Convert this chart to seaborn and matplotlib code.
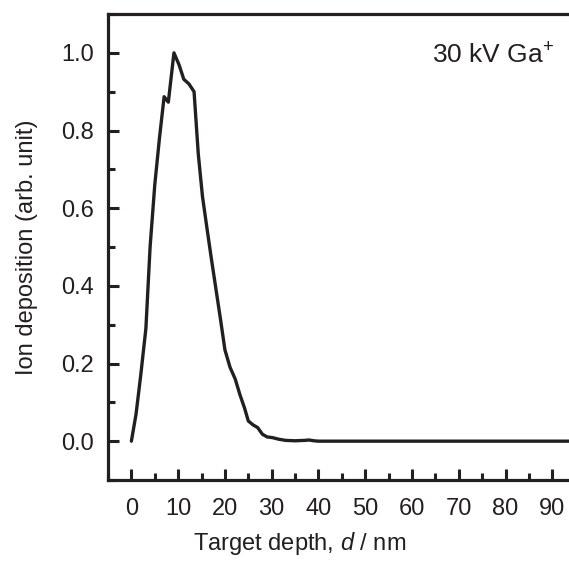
import numpy as np
import pandas as pd
import matplotlib
matplotlib.use("Agg")
import matplotlib.pyplot as plt
import seaborn as sns
from matplotlib.ticker import MultipleLocator

depth = [0, 1.0, 2.0, 3.1, 4.0, 5.0, 6.0, 7.0, 7.9, 9.1, 10.2, 11.2, 12.3, 13.4,
         14.3, 15.2, 16.2, 17.1, 18.1, 19.1, 20.0, 21.1, 22.2, 23.2, 24.2, 25.0,
         26.0, 27.0, 28.0, 29.0, 30.2, 31.5, 33.0, 35.0, 37.0, 38.0, 39.0, 40.0,
         50.0, 60.0, 70.0, 80.0, 90.0, 96.0]
deposition = [0.0, 0.07, 0.17, 0.29, 0.50, 0.66, 0.78, 0.887, 0.873, 1.0, 0.969,
              0.932, 0.92, 0.90, 0.74, 0.63, 0.545, 0.47, 0.39, 0.31, 0.235, 0.19,
              0.16, 0.12, 0.085, 0.052, 0.042, 0.035, 0.018, 0.011, 0.009, 0.005,
              0.002, 0.001, 0.002, 0.003, 0.001, 0.0, 0.0, 0.0, 0.0, 0.0, 0.0, 0.0]
x_ticks = [0, 10, 20, 30, 40, 50, 60, 70, 80, 90]
y_ticks = [0.0, 0.2, 0.4, 0.6, 0.8, 1.0]
annotation = "30 kV Ga$^{+}$"
x_label = "Target depth, $\\mathit{d}$ / nm"
y_label = "Ion deposition (arb. unit)"

ink = "#231f20"
sns.set_theme(style="ticks")
plt.rcParams["font.family"] = ["Liberation Sans", "DejaVu Sans"]
plt.rcParams["mathtext.fontset"] = "custom"
plt.rcParams["mathtext.rm"] = "Liberation Sans"
plt.rcParams["mathtext.it"] = "Liberation Sans:italic"
plt.rcParams["mathtext.bf"] = "Liberation Sans:bold"

fig = plt.figure(figsize=(5.69, 5.61), dpi=100)
ax_w = 575.7 - 108
ax = fig.add_axes([108 / 569, 81 / 561, ax_w / 569, 466 / 561])

df = pd.DataFrame({"depth": depth, "dep": deposition})
sns.lineplot(data=df, x="depth", y="dep", ax=ax, color=ink, linewidth=2.4,
             sort=False, estimator=None)

ax.set_xlim(-5, 95)
ax.set_ylim(-0.1, 1.1)
ax.set_xticks(x_ticks)
ax.set_xticklabels([str(t) for t in x_ticks])
ax.set_yticks(y_ticks)
ax.set_yticklabels([f"{t:.1f}" for t in y_ticks])
ax.xaxis.set_minor_locator(MultipleLocator(5))
ax.yaxis.set_minor_locator(MultipleLocator(0.1))

for s in ax.spines.values():
    s.set_linewidth(2.3)
    s.set_color(ink)
ax.spines["right"].set_visible(False)

ax.tick_params(which="major", direction="in", length=8, width=2.2, color=ink,
               labelsize=17, labelcolor=ink)
ax.tick_params(which="minor", direction="in", length=5, width=2.2, color=ink)
ax.tick_params(axis="x", which="major", pad=13)
ax.tick_params(axis="y", which="major", pad=10)
ax.tick_params(axis="y", which="both", right=False)
ax.tick_params(axis="x", which="both", top=False)

ax.set_xlabel(x_label, fontsize=17, color=ink)
ax.set_ylabel(y_label, fontsize=17, color=ink)
ax.xaxis.set_label_coords((300 - 108) / ax_w, -(530 - 480) / 466)
ax.yaxis.set_label_coords(-(108 - 38) / ax_w, 0.5)

ax.text(432 / 569, 1 - 64 / 561, annotation, transform=fig.transFigure,
        fontsize=19, color=ink, ha="left", va="baseline")

fig.savefig("out.png", dpi=100)
